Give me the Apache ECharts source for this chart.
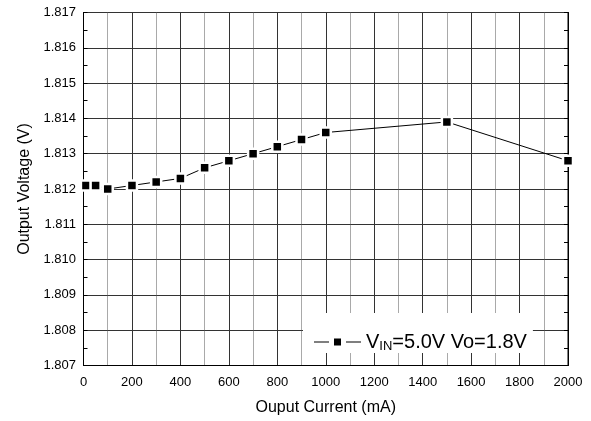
<!DOCTYPE html>
<html><head><meta charset="utf-8">
<script src="https://cdn.jsdelivr.net/npm/echarts@6/dist/echarts.min.js"></script>
<style>html,body{margin:0;padding:0;background:#fff}#c{width:591px;height:421px}</style>
</head><body><div id="c"></div>
<script>
var currents = [10, 50, 100, 200, 300, 400, 500, 600, 700, 800, 900, 1000, 1500, 2000];
var voltages = [1.8121, 1.8121, 1.8120, 1.8121, 1.8122, 1.8123, 1.8126, 1.8128, 1.8130, 1.8132, 1.8134, 1.8136, 1.8139, 1.8128];
var seriesName = 'VIN=5.0V Vo=1.8V';
var xTitle = 'Ouput Current (mA)';
var yTitle = 'Output Voltage (V)';

var data = currents.map(function (c, i) { return [c, voltages[i]]; });
var FONT = '"Liberation Sans", Arial, sans-serif';
var chart = echarts.init(document.getElementById('c'));
chart.setOption({
  animation: false,
  textStyle: { fontFamily: FONT },
  grid: { left: 83.5, right: 23, top: 12.5, bottom: 55.5, show: true, borderColor: '#000', borderWidth: 1, backgroundColor: 'transparent' },
  legend: {
    data: [seriesName],
    left: 303, top: 313,
    padding: [0, 6, 0, 11],
    backgroundColor: '#fff',
    icon: 'path://M0,3h15v1h-15z M20,0h7v7h-7z M32,3h15v1h-15z',
    itemWidth: 47, itemHeight: 7,
    itemGap: 0,
    itemStyle: { color: '#000', borderWidth: 0, borderColor: 'transparent' },
    formatter: function () { return '{v|V}{sub|IN}{v|=5.0V Vo=1.8V}'; },
    textStyle: {
      color: '#000', fontFamily: FONT,
      rich: {
        v: { fontSize: 20, lineHeight: 22, color: '#000', fontFamily: FONT, verticalAlign: 'middle' },
        sub: { fontSize: 13, lineHeight: 13, color: '#000', fontFamily: FONT, verticalAlign: 'bottom', padding: [27, 0, 0, 0] }
      }
    }
  },
  xAxis: [{
    type: 'value', min: 0, max: 2000, interval: 200,
    name: xTitle, nameLocation: 'middle', nameGap: 34,
    nameTextStyle: { fontSize: 16, color: '#000', fontFamily: FONT },
    axisLine: { show: true, onZero: false, lineStyle: { color: '#000' } },
    axisTick: { show: false },
    axisLabel: { fontSize: 13, color: '#000', margin: 10, fontFamily: FONT, formatter: function (v) { return String(v); } },
    splitLine: { show: true, lineStyle: { color: '#333', width: 1 } },
    minorTick: { show: false, splitNumber: 2 },
    minorSplitLine: { show: true, lineStyle: { color: '#555', type: [1, 1], width: 1 } }
  }],
  yAxis: [{
    type: 'value', min: 1.807, max: 1.817, interval: 0.001,
    name: yTitle, nameLocation: 'middle', nameGap: 50.5,
    nameTextStyle: { fontSize: 16, color: '#000', fontFamily: FONT },
    axisLine: { show: true, onZero: false, lineStyle: { color: '#000' } },
    axisTick: { show: true, inside: true, length: 4, lineStyle: { color: '#000' } },
    minorTick: { show: true, splitNumber: 2, length: 4, lineStyle: { color: '#000' } },
    axisLabel: { fontSize: 13, color: '#000', margin: 7.5, fontFamily: FONT, formatter: function (v) { return v.toFixed(3); } },
    splitLine: { show: true, lineStyle: { color: '#333', width: 1 } }
  }, {
    type: 'value', min: 1.807, max: 1.817, interval: 0.001, position: 'right',
    axisLine: { show: true, onZero: false, lineStyle: { color: '#000' } },
    axisTick: { show: true, inside: true, length: 4, lineStyle: { color: '#000' } },
    minorTick: { show: true, splitNumber: 2, length: 4, lineStyle: { color: '#000' } },
    axisLabel: { show: false },
    splitLine: { show: false }
  }],
  series: [{
    name: seriesName,
    type: 'line',
    data: data,
    symbol: 'rect',
    symbolSize: 10,
    clip: true,
    lineStyle: { color: '#000', width: 1 },
    itemStyle: { color: '#000', borderColor: '#fff', borderWidth: 2.5 }
  }]
});
</script></body></html>
